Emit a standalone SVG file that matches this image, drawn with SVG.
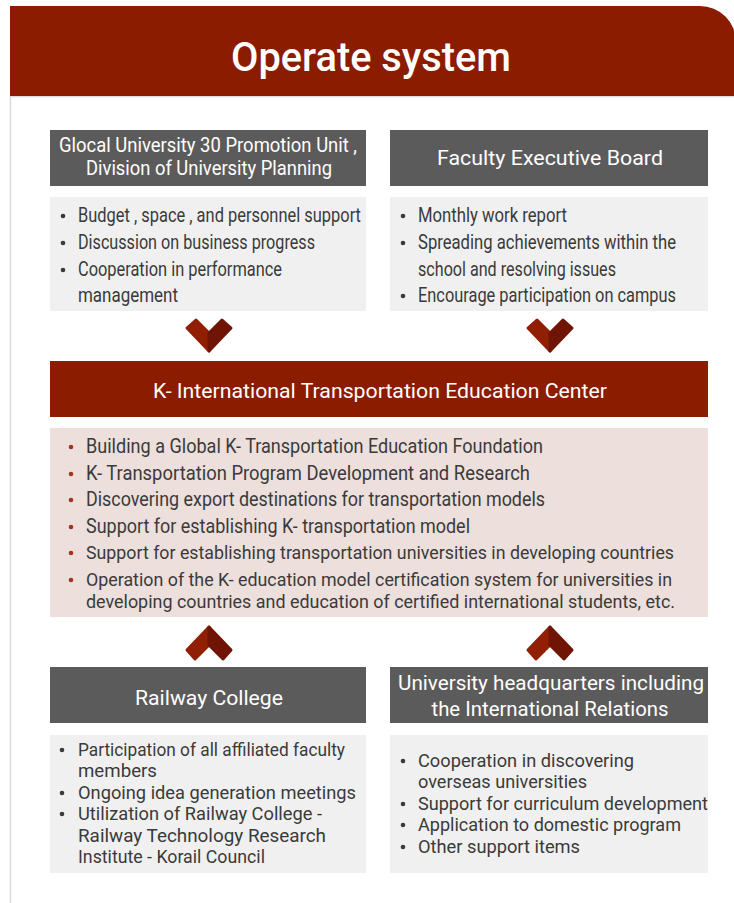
<svg xmlns="http://www.w3.org/2000/svg" width="734" height="903" viewBox="0 0 734 903">
<defs>
<style>
.hd{fill:#5b5b5b}
.bd{fill:#f0f0f0}
.red{fill:#8b1c00}
.pink{fill:#ecdfdc}
.ht{fill:#ffffff;font-family:Roboto,"Liberation Sans",sans-serif;font-size:20px;text-anchor:middle}
.bt{fill:#3a3a3a;font-family:Roboto,"Liberation Sans",sans-serif;font-size:20px}
.bs{fill:#3a3a3a;font-family:Roboto,"Liberation Sans",sans-serif;font-size:19px}
.dot{fill:#3a3a3a}
.rdot{fill:#a8321a}
.cl{fill:#901f04;stroke:#901f04;stroke-width:3;stroke-linejoin:round}
.cr{fill:#701505;stroke:#701505;stroke-width:3;stroke-linejoin:round}
</style>
</defs>
<rect x="0" y="0" width="734" height="903" fill="#ffffff"/>
<rect x="10.5" y="96.5" width="740" height="820" fill="#ffffff" stroke="#dcdcdc" stroke-width="1.5"/>
<g id="title">
<path class="red" d="M10,6 H700 A36,36 0 0 1 736,42 V96 H10 Z"/>
<text x="371" y="71" fill="#ffffff" font-family="Roboto,'Liberation Sans',sans-serif" font-size="41" font-weight="500" text-anchor="middle" textLength="280" lengthAdjust="spacingAndGlyphs">Operate system</text>
</g>
<g id="glocal">
<rect class="hd" x="50" y="130" width="316" height="56"/>
<text class="ht" x="208" y="152" font-size="19" textLength="298" lengthAdjust="spacingAndGlyphs">Glocal University 30 Promotion Unit ,</text>
<text class="ht" x="209" y="175" font-size="19" textLength="246" lengthAdjust="spacingAndGlyphs">Division of University Planning</text>
<rect class="bd" x="50" y="197" width="316" height="114"/>
<circle class="dot" cx="63" cy="216" r="2.3"/>
<circle class="dot" cx="63" cy="243" r="2.3"/>
<circle class="dot" cx="63" cy="270" r="2.3"/>
<text class="bt" x="78" y="222" textLength="283" lengthAdjust="spacingAndGlyphs">Budget , space , and personnel support</text>
<text class="bt" x="78" y="249" textLength="237" lengthAdjust="spacingAndGlyphs">Discussion on business progress</text>
<text class="bt" x="78" y="276" textLength="204" lengthAdjust="spacingAndGlyphs">Cooperation in performance</text>
<text class="bt" x="78" y="302" textLength="100" lengthAdjust="spacingAndGlyphs">management</text>
</g>
<g id="faculty">
<rect class="hd" x="390" y="130" width="318" height="56"/>
<text class="ht" x="550" y="165" font-size="21" textLength="226" lengthAdjust="spacingAndGlyphs">Faculty Executive Board</text>
<rect class="bd" x="390" y="197" width="318" height="114"/>
<circle class="dot" cx="403" cy="216" r="2.3"/>
<circle class="dot" cx="403" cy="243" r="2.3"/>
<circle class="dot" cx="403" cy="296" r="2.3"/>
<text class="bt" x="418" y="222" textLength="149" lengthAdjust="spacingAndGlyphs">Monthly work report</text>
<text class="bt" x="418" y="249" textLength="258" lengthAdjust="spacingAndGlyphs">Spreading achievements within the</text>
<text class="bt" x="418" y="276" textLength="198" lengthAdjust="spacingAndGlyphs">school and resolving issues</text>
<text class="bt" x="418" y="302" textLength="258" lengthAdjust="spacingAndGlyphs">Encourage participation on campus</text>
</g>
<g id="center">
<rect class="red" x="50" y="361" width="658" height="56"/>
<text class="ht" x="380" y="398" font-size="21" textLength="454" lengthAdjust="spacingAndGlyphs">K- International Transportation Education Center</text>
<rect class="pink" x="50" y="428" width="658" height="189"/>
<circle class="rdot" cx="71" cy="447" r="2.3"/>
<circle class="rdot" cx="71" cy="474" r="2.3"/>
<circle class="rdot" cx="71" cy="500" r="2.3"/>
<circle class="rdot" cx="71" cy="527" r="2.3"/>
<circle class="rdot" cx="71" cy="553" r="2.3"/>
<circle class="rdot" cx="71" cy="580" r="2.3"/>
<text class="bt" x="86" y="453" textLength="457" lengthAdjust="spacingAndGlyphs">Building a Global K- Transportation Education Foundation</text>
<text class="bt" x="86" y="480" textLength="444" lengthAdjust="spacingAndGlyphs">K- Transportation Program Development and Research</text>
<text class="bt" x="86" y="506" textLength="459" lengthAdjust="spacingAndGlyphs">Discovering export destinations for transportation models</text>
<text class="bt" x="86" y="533" textLength="384" lengthAdjust="spacingAndGlyphs">Support for establishing K- transportation model</text>
<text class="bs" x="86" y="559" textLength="588" lengthAdjust="spacingAndGlyphs">Support for establishing transportation universities in developing countries</text>
<text class="bs" x="86" y="586" textLength="586" lengthAdjust="spacingAndGlyphs">Operation of the K- education model certification system for universities in</text>
<text class="bs" x="86" y="608" textLength="589" lengthAdjust="spacingAndGlyphs">developing countries and education of certified international students, etc.</text>
</g>
<g id="railway">
<rect class="hd" x="50" y="667" width="316" height="56"/>
<text class="ht" x="209" y="705" font-size="21" textLength="148" lengthAdjust="spacingAndGlyphs">Railway College</text>
<rect class="bd" x="50" y="735" width="316" height="138"/>
<circle class="dot" cx="62" cy="750" r="2.3"/>
<circle class="dot" cx="62" cy="793" r="2.3"/>
<circle class="dot" cx="62" cy="814" r="2.3"/>
<text class="bs" x="78" y="756" textLength="267" lengthAdjust="spacingAndGlyphs">Participation of all affiliated faculty</text>
<text class="bs" x="78" y="777" textLength="79" lengthAdjust="spacingAndGlyphs">members</text>
<text class="bs" x="78" y="799" textLength="278" lengthAdjust="spacingAndGlyphs">Ongoing idea generation meetings</text>
<text class="bs" x="78" y="820" textLength="244" lengthAdjust="spacingAndGlyphs">Utilization of Railway College -</text>
<text class="bs" x="78" y="842" textLength="248" lengthAdjust="spacingAndGlyphs">Railway Technology Research</text>
<text class="bs" x="78" y="863" textLength="187" lengthAdjust="spacingAndGlyphs">Institute - Korail Council</text>
</g>
<g id="headquarters">
<rect class="hd" x="390" y="667" width="318" height="56"/>
<text class="ht" x="551" y="690" font-size="21" textLength="306" lengthAdjust="spacingAndGlyphs">University headquarters including</text>
<text class="ht" x="550" y="716" font-size="21" textLength="237" lengthAdjust="spacingAndGlyphs">the International Relations</text>
<rect class="bd" x="390" y="735" width="318" height="138"/>
<circle class="dot" cx="403" cy="761" r="2.3"/>
<circle class="dot" cx="403" cy="804" r="2.3"/>
<circle class="dot" cx="403" cy="825" r="2.3"/>
<circle class="dot" cx="403" cy="847" r="2.3"/>
<text class="bs" x="418" y="767" textLength="216" lengthAdjust="spacingAndGlyphs">Cooperation in discovering</text>
<text class="bs" x="418" y="788" textLength="169" lengthAdjust="spacingAndGlyphs">overseas universities</text>
<text class="bs" x="418" y="810" textLength="290" lengthAdjust="spacingAndGlyphs">Support for curriculum development</text>
<text class="bs" x="418" y="831" textLength="263" lengthAdjust="spacingAndGlyphs">Application to domestic program</text>
<text class="bs" x="418" y="853" textLength="162" lengthAdjust="spacingAndGlyphs">Other support items</text>
</g>
<g id="connectors">
<g transform="translate(209,0)">
<polygon class="cl" points="-22,328 -13,320 0,333 0,351"/>
<polygon class="cr" points="0,333 13,320 22,328 0,351"/>
</g>
<g transform="translate(550,0)">
<polygon class="cl" points="-22,328 -13,320 0,333 0,351"/>
<polygon class="cr" points="0,333 13,320 22,328 0,351"/>
</g>
<g transform="translate(209,0)">
<polygon class="cl" points="0,627 0,645 -14,659 -22,650"/>
<polygon class="cr" points="0,627 22,650 14,659 0,645"/>
</g>
<g transform="translate(550,0)">
<polygon class="cl" points="0,627 0,645 -14,659 -22,650"/>
<polygon class="cr" points="0,627 22,650 14,659 0,645"/>
</g>
</g>
</svg>
